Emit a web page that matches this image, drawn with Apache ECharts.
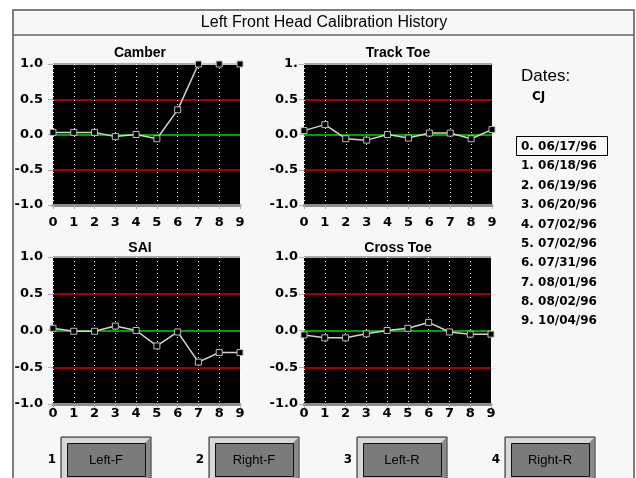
<!DOCTYPE html>
<html><head><meta charset="utf-8">
<script src="https://cdn.jsdelivr.net/npm/echarts@6/dist/echarts.min.js"></script>
<style>html,body{margin:0;padding:0;background:#fff}#c{width:636px;height:478px}</style>
</head><body><div id="c"></div>
<script>
// ---- data ----
const xCategories = ['0','1','2','3','4','5','6','7','8','9'];
const camber   = [0.03, 0.03, 0.03, -0.03, 0.0, -0.06, 0.35, 1.0, 1.0, 1.0];
const trackToe = [0.055, 0.14, -0.06, -0.08, 0.0, -0.05, 0.02, 0.02, -0.06, 0.07];
const sai      = [0.03, -0.01, -0.01, 0.06, 0.0, -0.21, -0.02, -0.43, -0.30, -0.30];
const crossToe = [-0.06, -0.10, -0.10, -0.045, 0.0, 0.03, 0.11, -0.02, -0.05, -0.05];
const panelTitles = ['Camber', 'Track Toe', 'SAI', 'Cross Toe'];
const yTickLabels = ['-1.0', '-0.5', '0.0', '0.5', '1.0'];
const yTickLabelsTrack = ['-1.0', '-0.5', '0.0', '0.5', '1.'];
const dates = ['06/17/96','06/18/96','06/19/96','06/20/96','07/02/96','07/02/96','07/31/96','08/01/96','08/02/96','10/04/96'];
const operatorName = 'CJ';
const mainTitle = 'Left Front Head Calibration History';
const buttonLabels = ['Left-F', 'Right-F', 'Left-R', 'Right-R'];

// ---- layout ----
const panels = [
  {data: camber,   ticks: yTickLabels,      grid: {left: 53,  top: 64,  width: 187, height: 141}, titleX: 140, titleY: 53,  yMargin: 10, yPad: 12, xMargin: 11},
  {data: trackToe, ticks: yTickLabelsTrack, grid: {left: 304, top: 64,  width: 188, height: 141}, titleX: 398, titleY: 53,  yMargin: 6,  yPad: 12, xMargin: 11},
  {data: sai,      ticks: yTickLabels,      grid: {left: 53,  top: 257, width: 187, height: 147}, titleX: 140, titleY: 248, yMargin: 10, yPad: 8,  xMargin: 3},
  {data: crossToe, ticks: yTickLabels,      grid: {left: 304, top: 257, width: 187, height: 147}, titleX: 398, titleY: 248, yMargin: 6,  yPad: 8,  xMargin: 3}
];

const labelFont = 'DejaVu Sans';
const grids = [], xAxes = [], yAxes = [], series = [];
panels.forEach((p, i) => {
  grids.push(Object.assign({show: true, backgroundColor: '#000', borderWidth: 0}, p.grid));
  xAxes.push({
    type: 'category', gridIndex: i, data: xCategories, boundaryGap: false,
    axisLine: {show: true, onZero: false, lineStyle: {color: '#8c8c8c', width: 3}},
    axisTick: {show: true, length: 4, lineStyle: {color: '#b0b0b0'}},
    axisLabel: {color: '#000', fontFamily: labelFont, fontWeight: 'bold', fontSize: 13, margin: p.xMargin},
    splitLine: {show: true, lineStyle: {color: '#ffffff', type: [1, 3], width: 1}}
  });
  const ticks = p.ticks;
  yAxes.push({
    type: 'value', gridIndex: i, min: -1, max: 1, interval: 0.5,
    axisLine: {show: false},
    axisTick: {show: true, length: 5, lineStyle: {color: '#b0b0b0'}},
    axisLabel: {
      color: '#000', fontFamily: labelFont, fontWeight: 'bold', fontSize: 13,
      margin: p.yMargin, verticalAlign: 'middle', padding: [0, 0, p.yPad, 0],
      formatter: v => ticks[Math.round((v + 1) / 0.5)]
    },
    splitLine: {show: true, lineStyle: {color: ['#a8a8a8', '#a00000', '#00a000', '#a00000', '#a8a8a8'], width: 2}}
  });
  series.push({
    type: 'line', xAxisIndex: i, yAxisIndex: i, data: p.data,
    symbol: 'rect', symbolSize: 6, showSymbol: true, clip: false,
    lineStyle: {color: '#d4d4d4', width: 1.5},
    itemStyle: {color: '#000', borderColor: '#bcbcbc', borderWidth: 1},
    silent: true, animation: false, z: 5
  });
});

// ---- graphics ----
const graphic = [];
graphic.push({type: 'rect', shape: {x: 13, y: 10, width: 621, height: 480}, style: {fill: '#f7f7f7', stroke: '#555', lineWidth: 1.5}, z: -10, silent: true});
graphic.push({type: 'line', shape: {x1: 13, y1: 35, x2: 634, y2: 35}, style: {stroke: '#666', lineWidth: 1.5}, silent: true});
graphic.push({type: 'text', x: 324, y: 23, style: {text: mainTitle, font: '16px "Liberation Sans"', fill: '#000', align: 'center', verticalAlign: 'middle'}});
panels.forEach((p, i) => {
  graphic.push({type: 'text', x: p.titleX, y: p.titleY, style: {text: panelTitles[i], font: 'bold 14px "Liberation Sans"', fill: '#000', align: 'center', verticalAlign: 'middle'}});
});
graphic.push({type: 'text', x: 521, y: 76, style: {text: 'Dates:', font: '17px "Liberation Sans"', fill: '#000', align: 'left', verticalAlign: 'middle'}});
graphic.push({type: 'text', x: 532, y: 97, style: {text: operatorName, font: 'bold 12px "DejaVu Sans"', fill: '#000', align: 'left', verticalAlign: 'middle'}});
graphic.push({type: 'rect', shape: {x: 516.5, y: 136.5, width: 91, height: 19}, style: {fill: 'none', stroke: '#000', lineWidth: 1}});
dates.forEach((d, i) => {
  graphic.push({type: 'text', x: 521, y: 147 + i * 19.35, style: {text: i + '. ' + d, font: 'bold 12px "DejaVu Sans"', fill: '#000', align: 'left', verticalAlign: 'middle'}});
});
const buttonX = [61, 209, 357, 505];
buttonLabels.forEach((b, i) => {
  const x = buttonX[i];
  graphic.push({type: 'text', x: x - 9, y: 460, style: {text: String(i + 1), font: 'bold 12px "DejaVu Sans"', fill: '#000', align: 'center', verticalAlign: 'middle'}});
  graphic.push({type: 'rect', shape: {x: x, y: 437, width: 90, height: 45}, style: {fill: '#b8b8b8', stroke: '#222', lineWidth: 1}});
  graphic.push({type: 'polygon', shape: {points: [[x + 1, 438], [x + 89, 438], [x + 84, 443], [x + 6, 443], [x + 6, 476], [x + 1, 481]]}, style: {fill: '#d8d8d8'}});
  graphic.push({type: 'polygon', shape: {points: [[x + 89, 438], [x + 89, 481], [x + 84, 476], [x + 84, 443]]}, style: {fill: '#8a8a8a'}});
  graphic.push({type: 'rect', shape: {x: x + 6.5, y: 443.5, width: 78, height: 33}, style: {fill: '#7b7b7b', stroke: '#111', lineWidth: 1}});
  graphic.push({type: 'text', x: x + 45, y: 460, style: {text: b, font: '13px "Liberation Sans"', fill: '#000', align: 'center', verticalAlign: 'middle'}});
});

const chart = echarts.init(document.getElementById('c'), null, {renderer: 'canvas'});
chart.setOption({
  backgroundColor: '#ffffff',
  animation: false,
  grid: grids, xAxis: xAxes, yAxis: yAxes, series: series,
  graphic: graphic
});
</script></body></html>
